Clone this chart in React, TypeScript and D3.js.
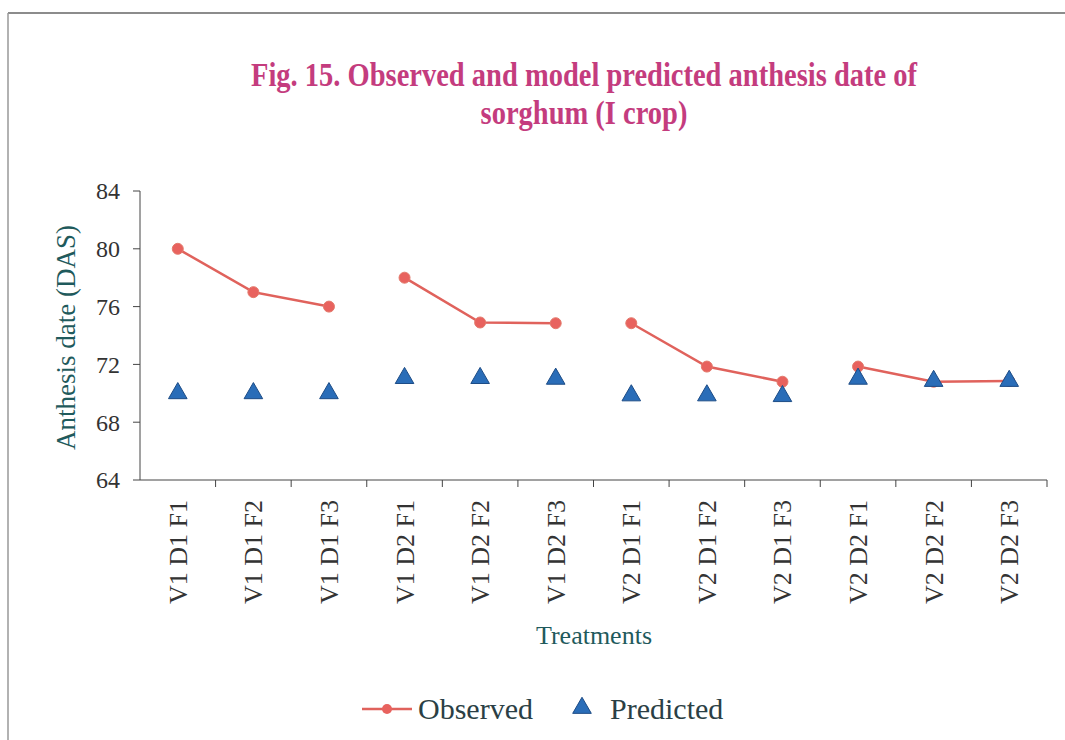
import React from "react";
import * as d3 from "d3";

const categories = [
  "V1 D1 F1", "V1 D1 F2", "V1 D1 F3",
  "V1 D2 F1", "V1 D2 F2", "V1 D2 F3",
  "V2 D1 F1", "V2 D1 F2", "V2 D1 F3",
  "V2 D2 F1", "V2 D2 F2", "V2 D2 F3",
];
const observed = [80, 77, 76, 78, 74.9, 74.85, 74.85, 71.85, 70.8, 71.85, 70.8, 70.85];
const predicted = [70, 70, 70, 71.05, 71.05, 71, 69.85, 69.85, 69.8, 71, 70.85, 70.85];
const groups = [[0, 1, 2], [3, 4, 5], [6, 7, 8], [9, 10, 11]];
const yTicks = [64, 68, 72, 76, 80, 84];

const W = 1065, H = 740;
const left = 140, right = 1047, top = 191, bottom = 480;
const serif = "'Liberation Serif', 'Times New Roman', serif";

export default function App() {
  const x = d3.scaleBand<string>().domain(categories).range([left, right]).paddingInner(0).paddingOuter(0);
  const y = d3.scaleLinear().domain([64, 84]).range([bottom, top]);
  const cx = (i: number) => (x(categories[i]) as number) + x.bandwidth() / 2;
  const line = d3.line<number>().x((i) => cx(i)).y((i) => y(observed[i]));
  const tri = d3.symbol().type(d3.symbolTriangle).size(150)() as string;
  const tickColor = "#333";
  const titleColor = "#c43c7e";
  const axisTitleColor = "#1f5a5c";
  return (
    <svg width={W} height={H} style={{ position: "absolute", left: 0, top: 0, background: "#fff" }}>
      {/* frame */}
      <line x1={8} y1={13} x2={1065} y2={13} stroke="#666" strokeWidth={1.5} />
      <line x1={8} y1={13} x2={8} y2={740} stroke="#999" strokeWidth={1.5} />
      {/* title */}
      <g transform="translate(584,0) scale(0.95,1.1)">
        <text x={0} y={78} textAnchor="middle" fontFamily={serif} fontWeight="bold" fontSize={30} fill={titleColor}>
          Fig. 15. Observed and model predicted anthesis date of
        </text>
        <text x={0} y={113} textAnchor="middle" fontFamily={serif} fontWeight="bold" fontSize={30} fill={titleColor}>
          sorghum (I crop)
        </text>
      </g>
      {/* y axis */}
      <line x1={left} y1={top} x2={left} y2={bottom} stroke="#444" strokeWidth={1} />
      {yTicks.map((t) => (
        <g key={t}>
          <line x1={left - 7} x2={left} y1={y(t)} y2={y(t)} stroke="#444" />
          <text x={left - 20} y={y(t)} dy="0.35em" textAnchor="end" fontFamily={serif} fontSize={24} fill={tickColor}>
            {t}
          </text>
        </g>
      ))}
      <text
        transform={`translate(75,${(top + bottom) / 2 + 2}) rotate(-90)`}
        textAnchor="middle"
        fontFamily={serif}
        fontSize={27}
        fill={axisTitleColor}
      >
        Anthesis date (DAS)
      </text>
      {/* x axis */}
      <line x1={left} y1={bottom} x2={right} y2={bottom} stroke="#444" strokeWidth={1} />
      {categories.map((c, i) => (
        <line key={"t" + i} x1={(x(c) as number) + x.bandwidth()} x2={(x(c) as number) + x.bandwidth()} y1={bottom} y2={bottom + 7} stroke="#444" />
      ))}
      {categories.map((c, i) => (
        <text
          key={"l" + i}
          transform={`translate(${cx(i) + 9},${bottom + 20}) rotate(-90)`}
          textAnchor="end"
          fontFamily={serif}
          fontSize={26}
          fill={tickColor}
        >
          {c}
        </text>
      ))}
      <text x={594} y={644} textAnchor="middle" fontFamily={serif} fontSize={26} fill={axisTitleColor}>
        Treatments
      </text>
      {/* observed */}
      {groups.map((g, k) => (
        <path key={"g" + k} d={line(g) as string} fill="none" stroke="#e0625c" strokeWidth={2.5} />
      ))}
      {observed.map((v, i) => (
        <circle key={"o" + i} cx={cx(i)} cy={y(v)} r={5.5} fill="#e8625e" stroke="#e47a6c" strokeWidth={1} />
      ))}
      {/* predicted */}
      {predicted.map((v, i) => (
        <path key={"p" + i} d={tri} transform={`translate(${cx(i)},${y(v)})`} fill="#2a6db8" stroke="#1d4c86" strokeWidth={1} />
      ))}
      {/* legend */}
      <line x1={362} x2={412} y1={709} y2={709} stroke="#e0625c" strokeWidth={2.5} />
      <circle cx={387} cy={709} r={5} fill="#e8625e" />
      <text x={418} y={719} fontFamily={serif} fontSize={30} fill="#2b3f45">Observed</text>
      <path d={tri} transform="translate(582,708)" fill="#2a6db8" stroke="#1d4c86" strokeWidth={1} />
      <text x={610} y={719} fontFamily={serif} fontSize={30} fill="#2b3f45">Predicted</text>
    </svg>
  );
}
